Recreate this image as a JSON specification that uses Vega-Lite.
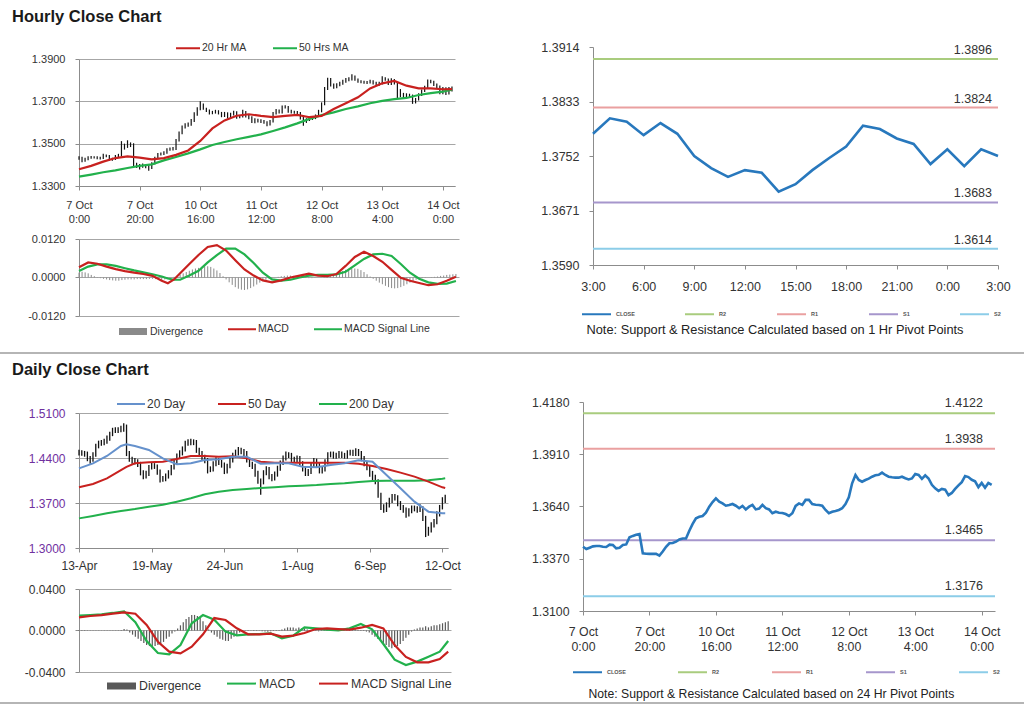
{
"$schema":"https://vega.github.io/schema/vega-lite/v6.json",
"padding":0,
"background":"white",
"spacing":0,
"bounds":"flush",
"resolve":{"scale":{"color":"independent"},"legend":{"color":"independent"}},
"config":{
 "view":{"stroke":null},
 "font":"Liberation Sans",
 "axis":{"labelFont":"Liberation Sans","labelColor":"#333333","domainColor":"#8c8c8c","tickColor":"#8c8c8c","gridColor":"#a6a6a6","tickSize":4,"labelPadding":10,"labelFlush":false,"labelOverlap":false,"labelBound":false},
 "legend":{"labelFont":"Liberation Sans","labelColor":"#333333","padding":0},
 "title":{"font":"Liberation Sans","fontSize":16.5,"fontWeight":"bold","color":"#1a1a1a","anchor":"start","frame":"group","limit":400}
},
"datasets":{
"hourly":[{"i":0,"c":1.3432,"h":1.344,"l":1.3424},{"i":1,"c":1.342,"h":1.3438,"l":1.3412},{"i":2,"c":1.3427,"h":1.3433,"l":1.3415},{"i":3,"c":1.3434,"h":1.344,"l":1.3422},{"i":4,"c":1.3436,"h":1.3442,"l":1.3429},{"i":5,"c":1.3436,"h":1.3441,"l":1.343},{"i":6,"c":1.3432,"h":1.3441,"l":1.3426},{"i":7,"c":1.3431,"h":1.3438,"l":1.3425},{"i":8,"c":1.3443,"h":1.3452,"l":1.3427},{"i":9,"c":1.3441,"h":1.3449,"l":1.3436},{"i":10,"c":1.3424,"h":1.3446,"l":1.3419},{"i":11,"c":1.3427,"h":1.3433,"l":1.3419},{"i":12,"c":1.3441,"h":1.3447,"l":1.3423},{"i":13,"c":1.3444,"h":1.3452,"l":1.3436},{"i":14,"c":1.3481,"h":1.3512,"l":1.344},{"i":15,"c":1.3488,"h":1.35,"l":1.3472},{"i":16,"c":1.3494,"h":1.3516,"l":1.348},{"i":17,"c":1.3498,"h":1.3506,"l":1.3484},{"i":18,"c":1.3398,"h":1.3502,"l":1.339},{"i":19,"c":1.3396,"h":1.341,"l":1.3385},{"i":20,"c":1.3395,"h":1.3404,"l":1.3378},{"i":21,"c":1.3395,"h":1.3406,"l":1.3386},{"i":22,"c":1.3395,"h":1.3402,"l":1.3384},{"i":23,"c":1.3386,"h":1.34,"l":1.3372},{"i":24,"c":1.3407,"h":1.3412,"l":1.338},{"i":25,"c":1.3432,"h":1.3438,"l":1.3402},{"i":26,"c":1.345,"h":1.3456,"l":1.3428},{"i":27,"c":1.3451,"h":1.3458,"l":1.3444},{"i":28,"c":1.3458,"h":1.3464,"l":1.3446},{"i":29,"c":1.347,"h":1.3478,"l":1.3452},{"i":30,"c":1.3475,"h":1.3482,"l":1.3466},{"i":31,"c":1.3475,"h":1.3484,"l":1.3468},{"i":32,"c":1.3515,"h":1.3522,"l":1.347},{"i":33,"c":1.355,"h":1.3558,"l":1.351},{"i":34,"c":1.3579,"h":1.3586,"l":1.3544},{"i":35,"c":1.3587,"h":1.3596,"l":1.3572},{"i":36,"c":1.3591,"h":1.36,"l":1.358},{"i":37,"c":1.3608,"h":1.3616,"l":1.3585},{"i":38,"c":1.3639,"h":1.3648,"l":1.3602},{"i":39,"c":1.3663,"h":1.3672,"l":1.3632},{"i":40,"c":1.3682,"h":1.37,"l":1.3658},{"i":41,"c":1.3665,"h":1.369,"l":1.366},{"i":42,"c":1.3656,"h":1.367,"l":1.365},{"i":43,"c":1.3644,"h":1.3662,"l":1.3638},{"i":44,"c":1.3648,"h":1.3655,"l":1.3639},{"i":45,"c":1.3653,"h":1.366,"l":1.3642},{"i":46,"c":1.3644,"h":1.3658,"l":1.3638},{"i":47,"c":1.3631,"h":1.365,"l":1.3625},{"i":48,"c":1.3643,"h":1.365,"l":1.3626},{"i":49,"c":1.3625,"h":1.3648,"l":1.3619},{"i":50,"c":1.3639,"h":1.3646,"l":1.362},{"i":51,"c":1.3648,"h":1.3656,"l":1.3633},{"i":52,"c":1.3625,"h":1.3653,"l":1.3618},{"i":53,"c":1.3629,"h":1.3636,"l":1.362},{"i":54,"c":1.3648,"h":1.366,"l":1.3624},{"i":55,"c":1.3631,"h":1.3654,"l":1.3624},{"i":56,"c":1.3625,"h":1.3636,"l":1.3615},{"i":57,"c":1.3605,"h":1.363,"l":1.3598},{"i":58,"c":1.3613,"h":1.362,"l":1.3596},{"i":59,"c":1.3608,"h":1.3618,"l":1.36},{"i":60,"c":1.3606,"h":1.3615,"l":1.3598},{"i":61,"c":1.3601,"h":1.3612,"l":1.3594},{"i":62,"c":1.3591,"h":1.3606,"l":1.3582},{"i":63,"c":1.3605,"h":1.3612,"l":1.3586},{"i":64,"c":1.3643,"h":1.365,"l":1.36},{"i":65,"c":1.3656,"h":1.3664,"l":1.3638},{"i":66,"c":1.3648,"h":1.3662,"l":1.3642},{"i":67,"c":1.3674,"h":1.368,"l":1.3643},{"i":68,"c":1.3674,"h":1.3682,"l":1.3666},{"i":69,"c":1.3653,"h":1.3678,"l":1.3646},{"i":70,"c":1.3649,"h":1.366,"l":1.3642},{"i":71,"c":1.3648,"h":1.3656,"l":1.3641},{"i":72,"c":1.3644,"h":1.3654,"l":1.3636},{"i":73,"c":1.3622,"h":1.365,"l":1.3614},{"i":74,"c":1.3605,"h":1.3628,"l":1.3585},{"i":75,"c":1.3613,"h":1.362,"l":1.3598},{"i":76,"c":1.3617,"h":1.3624,"l":1.3607},{"i":77,"c":1.3622,"h":1.3628,"l":1.3612},{"i":78,"c":1.3631,"h":1.3638,"l":1.3616},{"i":79,"c":1.3653,"h":1.366,"l":1.3626},{"i":80,"c":1.3687,"h":1.3695,"l":1.3648},{"i":81,"c":1.376,"h":1.3768,"l":1.3682},{"i":82,"c":1.3803,"h":1.3812,"l":1.3754},{"i":83,"c":1.3777,"h":1.381,"l":1.377},{"i":84,"c":1.3768,"h":1.3784,"l":1.376},{"i":85,"c":1.3777,"h":1.3786,"l":1.3762},{"i":86,"c":1.3784,"h":1.3792,"l":1.3771},{"i":87,"c":1.3794,"h":1.3802,"l":1.3778},{"i":88,"c":1.3801,"h":1.381,"l":1.3788},{"i":89,"c":1.3804,"h":1.3814,"l":1.3795},{"i":90,"c":1.3815,"h":1.3828,"l":1.3798},{"i":91,"c":1.3803,"h":1.3822,"l":1.3797},{"i":92,"c":1.3794,"h":1.3808,"l":1.3788},{"i":93,"c":1.3791,"h":1.38,"l":1.3785},{"i":94,"c":1.3789,"h":1.3797,"l":1.3783},{"i":95,"c":1.3789,"h":1.3796,"l":1.3782},{"i":96,"c":1.3794,"h":1.3802,"l":1.3784},{"i":97,"c":1.3786,"h":1.38,"l":1.378},{"i":98,"c":1.378,"h":1.3792,"l":1.3774},{"i":99,"c":1.3785,"h":1.3792,"l":1.3774},{"i":100,"c":1.3808,"h":1.3818,"l":1.378},{"i":101,"c":1.3803,"h":1.3814,"l":1.3797},{"i":102,"c":1.3783,"h":1.3808,"l":1.3777},{"i":103,"c":1.3801,"h":1.3809,"l":1.3777},{"i":104,"c":1.3785,"h":1.3806,"l":1.3779},{"i":105,"c":1.3752,"h":1.379,"l":1.3712},{"i":106,"c":1.3734,"h":1.3758,"l":1.372},{"i":107,"c":1.3721,"h":1.374,"l":1.3714},{"i":108,"c":1.3731,"h":1.3738,"l":1.3715},{"i":109,"c":1.3727,"h":1.3736,"l":1.372},{"i":110,"c":1.3699,"h":1.3732,"l":1.3688},{"i":111,"c":1.371,"h":1.3716,"l":1.369},{"i":112,"c":1.3731,"h":1.3738,"l":1.3704},{"i":113,"c":1.3749,"h":1.3756,"l":1.3725},{"i":114,"c":1.3766,"h":1.3774,"l":1.3744},{"i":115,"c":1.3797,"h":1.3803,"l":1.376},{"i":116,"c":1.3792,"h":1.3802,"l":1.3785},{"i":117,"c":1.3778,"h":1.3797,"l":1.3772},{"i":118,"c":1.377,"h":1.3784,"l":1.3763},{"i":119,"c":1.374,"h":1.3775,"l":1.3733},{"i":120,"c":1.3762,"h":1.3768,"l":1.3734},{"i":121,"c":1.3737,"h":1.3767,"l":1.373},{"i":122,"c":1.3762,"h":1.3768,"l":1.3732},{"i":123,"c":1.3752,"h":1.377,"l":1.3746}],
"hma":[{"i":0,"a":1.3379,"b":1.3344},{"i":4,"a":1.3395,"b":1.3354},{"i":8,"a":1.3415,"b":1.3365},{"i":12,"a":1.3432,"b":1.3374},{"i":16,"a":1.344,"b":1.3385},{"i":20,"a":1.3434,"b":1.3395},{"i":24,"a":1.3426,"b":1.3402},{"i":28,"a":1.3432,"b":1.3421},{"i":32,"a":1.3447,"b":1.3437},{"i":36,"a":1.3468,"b":1.3454},{"i":40,"a":1.3513,"b":1.3473},{"i":44,"a":1.3572,"b":1.3494},{"i":48,"a":1.361,"b":1.3508},{"i":52,"a":1.3632,"b":1.3521},{"i":56,"a":1.3639,"b":1.3532},{"i":60,"a":1.3631,"b":1.3544},{"i":64,"a":1.3625,"b":1.356},{"i":68,"a":1.3631,"b":1.3577},{"i":72,"a":1.3636,"b":1.3596},{"i":76,"a":1.3625,"b":1.3617},{"i":80,"a":1.3631,"b":1.3635},{"i":84,"a":1.3664,"b":1.3648},{"i":88,"a":1.3691,"b":1.3664},{"i":92,"a":1.3719,"b":1.3676},{"i":96,"a":1.3761,"b":1.3691},{"i":100,"a":1.3785,"b":1.3702},{"i":104,"a":1.3796,"b":1.371},{"i":108,"a":1.3774,"b":1.3716},{"i":112,"a":1.3761,"b":1.373},{"i":116,"a":1.3761,"b":1.3739},{"i":120,"a":1.3757,"b":1.3746},{"i":123,"a":1.3758,"b":1.3755}],
"hmacd":[{"i":0,"m":0.0032,"s":0.002},{"i":3,"m":0.0047,"s":0.0034},{"i":6,"m":0.0043,"s":0.0041},{"i":9,"m":0.0034,"s":0.0041},{"i":12,"m":0.0026,"s":0.0036},{"i":15,"m":0.002,"s":0.0029},{"i":18,"m":0.0015,"s":0.0022},{"i":21,"m":0.0011,"s":0.0016},{"i":24,"m":0.0005,"s":0.001},{"i":27,"m":-0.001,"s":0.0003},{"i":29,"m":-0.0018,"s":-0.0003},{"i":31,"m":-0.0006,"s":-0.0007},{"i":33,"m":0.0013,"s":-0.0007},{"i":36,"m":0.0042,"s":0.0006},{"i":39,"m":0.007,"s":0.0021},{"i":42,"m":0.0095,"s":0.0047},{"i":45,"m":0.0101,"s":0.007},{"i":48,"m":0.0084,"s":0.009},{"i":51,"m":0.0054,"s":0.009},{"i":54,"m":0.0025,"s":0.0072},{"i":57,"m":0.0006,"s":0.0045},{"i":60,"m":-0.0009,"s":0.0015},{"i":63,"m":-0.0015,"s":-0.0006},{"i":66,"m":-0.0009,"s":-0.001},{"i":69,"m":0,"s":-0.0007},{"i":72,"m":0.0006,"s":0},{"i":75,"m":0.0012,"s":0.0006},{"i":78,"m":0.0006,"s":0.0008},{"i":81,"m":0.0004,"s":0.0008},{"i":84,"m":0.0011,"s":0.001},{"i":87,"m":0.0036,"s":0.0018},{"i":90,"m":0.0064,"s":0.0038},{"i":93,"m":0.008,"s":0.0058},{"i":96,"m":0.0067,"s":0.0072},{"i":99,"m":0.0049,"s":0.0074},{"i":102,"m":0.0024,"s":0.0067},{"i":105,"m":-0.0001,"s":0.0042},{"i":108,"m":-0.001,"s":0.0015},{"i":111,"m":-0.0017,"s":-0.0004},{"i":114,"m":-0.0024,"s":-0.0015},{"i":117,"m":-0.0021,"s":-0.002},{"i":120,"m":-0.001,"s":-0.0019},{"i":123,"m":0.0002,"s":-0.0011}],
"hdiv":[{"i":0,"d":0.0015},{"i":1,"d":0.0018},{"i":2,"d":0.0016},{"i":3,"d":0.0013},{"i":4,"d":0.0008},{"i":5,"d":0.0004},{"i":6,"d":0.0001},{"i":7,"d":-0.0002},{"i":8,"d":-0.0004},{"i":9,"d":-0.0006},{"i":10,"d":-0.0008},{"i":11,"d":-0.0009},{"i":12,"d":-0.001},{"i":13,"d":-0.001},{"i":14,"d":-0.0008},{"i":15,"d":-0.0007},{"i":16,"d":-0.0006},{"i":17,"d":-0.0006},{"i":18,"d":-0.0006},{"i":19,"d":-0.0005},{"i":20,"d":-0.0005},{"i":21,"d":-0.0005},{"i":22,"d":-0.0005},{"i":23,"d":-0.0004},{"i":24,"d":-0.0004},{"i":25,"d":-0.0005},{"i":26,"d":-0.0007},{"i":27,"d":-0.0008},{"i":28,"d":-0.0006},{"i":29,"d":-0.0003},{"i":30,"d":-0.0001},{"i":31,"d":0.0002},{"i":32,"d":0.0005},{"i":33,"d":0.0009},{"i":34,"d":0.0013},{"i":35,"d":0.0017},{"i":36,"d":0.0021},{"i":37,"d":0.0025},{"i":38,"d":0.0028},{"i":39,"d":0.003},{"i":40,"d":0.0033},{"i":41,"d":0.0035},{"i":42,"d":0.0035},{"i":43,"d":0.0033},{"i":44,"d":0.0028},{"i":45,"d":0.0022},{"i":46,"d":0.0014},{"i":47,"d":0.0004},{"i":48,"d":-0.0006},{"i":49,"d":-0.0015},{"i":50,"d":-0.0023},{"i":51,"d":-0.003},{"i":52,"d":-0.0035},{"i":53,"d":-0.0038},{"i":54,"d":-0.0039},{"i":55,"d":-0.0037},{"i":56,"d":-0.0033},{"i":57,"d":-0.0028},{"i":58,"d":-0.0022},{"i":59,"d":-0.0016},{"i":60,"d":-0.0011},{"i":61,"d":-0.0007},{"i":62,"d":-0.0004},{"i":63,"d":-0.0002},{"i":64,"d":0},{"i":65,"d":0.0002},{"i":66,"d":0.0004},{"i":67,"d":0.0005},{"i":68,"d":0.0006},{"i":69,"d":0.0006},{"i":70,"d":0.0005},{"i":71,"d":0.0004},{"i":72,"d":0.0003},{"i":73,"d":0.0001},{"i":74,"d":-0.0001},{"i":75,"d":-0.0002},{"i":76,"d":-0.0002},{"i":77,"d":-0.0001},{"i":78,"d":0},{"i":79,"d":0.0001},{"i":80,"d":0.0002},{"i":81,"d":0.0004},{"i":82,"d":0.0006},{"i":83,"d":0.0009},{"i":84,"d":0.0012},{"i":85,"d":0.0016},{"i":86,"d":0.002},{"i":87,"d":0.0024},{"i":88,"d":0.0027},{"i":89,"d":0.0028},{"i":90,"d":0.0028},{"i":91,"d":0.0027},{"i":92,"d":0.0023},{"i":93,"d":0.0017},{"i":94,"d":0.001},{"i":95,"d":0.0003},{"i":96,"d":-0.0004},{"i":97,"d":-0.001},{"i":98,"d":-0.0016},{"i":99,"d":-0.0021},{"i":100,"d":-0.0026},{"i":101,"d":-0.003},{"i":102,"d":-0.0033},{"i":103,"d":-0.0034},{"i":104,"d":-0.0033},{"i":105,"d":-0.003},{"i":106,"d":-0.0026},{"i":107,"d":-0.0021},{"i":108,"d":-0.0016},{"i":109,"d":-0.0011},{"i":110,"d":-0.0007},{"i":111,"d":-0.0004},{"i":112,"d":-0.0002},{"i":113,"d":-0.0001},{"i":114,"d":0},{"i":115,"d":0.0001},{"i":116,"d":0.0002},{"i":117,"d":0.0003},{"i":118,"d":0.0005},{"i":119,"d":0.0006},{"i":120,"d":0.0008},{"i":121,"d":0.0009},{"i":122,"d":0.001},{"i":123,"d":0.0011}],
"daily":[{"i":0,"c":1.4483,"h":1.453,"l":1.444},{"i":1,"c":1.4473,"h":1.452,"l":1.4435},{"i":2,"c":1.4462,"h":1.451,"l":1.442},{"i":3,"c":1.4395,"h":1.45,"l":1.435},{"i":4,"c":1.4353,"h":1.443,"l":1.431},{"i":5,"c":1.4447,"h":1.449,"l":1.434},{"i":6,"c":1.4587,"h":1.462,"l":1.442},{"i":7,"c":1.4628,"h":1.467,"l":1.455},{"i":8,"c":1.4628,"h":1.468,"l":1.459},{"i":9,"c":1.4654,"h":1.47,"l":1.46},{"i":10,"c":1.4706,"h":1.475,"l":1.462},{"i":11,"c":1.4773,"h":1.481,"l":1.467},{"i":12,"c":1.4825,"h":1.487,"l":1.474},{"i":13,"c":1.4836,"h":1.488,"l":1.479},{"i":14,"c":1.4836,"h":1.488,"l":1.479},{"i":15,"c":1.4851,"h":1.49,"l":1.48},{"i":16,"c":1.4898,"h":1.494,"l":1.481},{"i":17,"c":1.4473,"h":1.492,"l":1.443},{"i":18,"c":1.4379,"h":1.451,"l":1.434},{"i":19,"c":1.4359,"h":1.442,"l":1.431},{"i":20,"c":1.4343,"h":1.44,"l":1.43},{"i":21,"c":1.4302,"h":1.438,"l":1.426},{"i":22,"c":1.4172,"h":1.434,"l":1.413},{"i":23,"c":1.412,"h":1.421,"l":1.407},{"i":24,"c":1.4161,"h":1.42,"l":1.408},{"i":25,"c":1.4255,"h":1.429,"l":1.412},{"i":26,"c":1.4281,"h":1.433,"l":1.422},{"i":27,"c":1.4265,"h":1.432,"l":1.423},{"i":28,"c":1.4187,"h":1.43,"l":1.414},{"i":29,"c":1.4068,"h":1.422,"l":1.402},{"i":30,"c":1.4078,"h":1.412,"l":1.403},{"i":31,"c":1.412,"h":1.416,"l":1.404},{"i":32,"c":1.4172,"h":1.421,"l":1.408},{"i":33,"c":1.4255,"h":1.429,"l":1.413},{"i":34,"c":1.4343,"h":1.438,"l":1.422},{"i":35,"c":1.4431,"h":1.447,"l":1.43},{"i":36,"c":1.4473,"h":1.452,"l":1.439},{"i":37,"c":1.4535,"h":1.458,"l":1.444},{"i":38,"c":1.4628,"h":1.467,"l":1.45},{"i":39,"c":1.4644,"h":1.469,"l":1.459},{"i":40,"c":1.4654,"h":1.47,"l":1.46},{"i":41,"c":1.4644,"h":1.469,"l":1.46},{"i":42,"c":1.4525,"h":1.468,"l":1.448},{"i":43,"c":1.4473,"h":1.456,"l":1.443},{"i":44,"c":1.441,"h":1.451,"l":1.437},{"i":45,"c":1.4369,"h":1.445,"l":1.432},{"i":46,"c":1.4213,"h":1.44,"l":1.416},{"i":47,"c":1.4224,"h":1.427,"l":1.418},{"i":48,"c":1.4307,"h":1.435,"l":1.419},{"i":49,"c":1.4369,"h":1.441,"l":1.427},{"i":50,"c":1.4333,"h":1.44,"l":1.429},{"i":51,"c":1.4291,"h":1.437,"l":1.425},{"i":52,"c":1.4198,"h":1.433,"l":1.415},{"i":53,"c":1.4276,"h":1.431,"l":1.416},{"i":54,"c":1.4369,"h":1.441,"l":1.424},{"i":55,"c":1.4441,"h":1.448,"l":1.433},{"i":56,"c":1.4483,"h":1.453,"l":1.44},{"i":57,"c":1.4525,"h":1.457,"l":1.444},{"i":58,"c":1.4504,"h":1.456,"l":1.446},{"i":59,"c":1.4473,"h":1.454,"l":1.443},{"i":60,"c":1.4369,"h":1.451,"l":1.433},{"i":61,"c":1.4302,"h":1.44,"l":1.426},{"i":62,"c":1.4276,"h":1.434,"l":1.423},{"i":63,"c":1.4161,"h":1.431,"l":1.411},{"i":64,"c":1.4047,"h":1.42,"l":1.4},{"i":65,"c":1.4032,"h":1.408,"l":1.383},{"i":66,"c":1.4172,"h":1.421,"l":1.399},{"i":67,"c":1.4234,"h":1.427,"l":1.413},{"i":68,"c":1.411,"h":1.426,"l":1.407},{"i":69,"c":1.4084,"h":1.415,"l":1.404},{"i":70,"c":1.4151,"h":1.419,"l":1.405},{"i":71,"c":1.4239,"h":1.428,"l":1.411},{"i":72,"c":1.4327,"h":1.436,"l":1.42},{"i":73,"c":1.4395,"h":1.444,"l":1.429},{"i":74,"c":1.4457,"h":1.45,"l":1.436},{"i":75,"c":1.4441,"h":1.449,"l":1.44},{"i":76,"c":1.4379,"h":1.448,"l":1.434},{"i":77,"c":1.4369,"h":1.442,"l":1.433},{"i":78,"c":1.4395,"h":1.444,"l":1.433},{"i":79,"c":1.4317,"h":1.443,"l":1.428},{"i":80,"c":1.4234,"h":1.435,"l":1.419},{"i":81,"c":1.4161,"h":1.427,"l":1.412},{"i":82,"c":1.4187,"h":1.423,"l":1.412},{"i":83,"c":1.4291,"h":1.433,"l":1.415},{"i":84,"c":1.4359,"h":1.44,"l":1.425},{"i":85,"c":1.4291,"h":1.439,"l":1.425},{"i":86,"c":1.4198,"h":1.433,"l":1.416},{"i":87,"c":1.4224,"h":1.426,"l":1.416},{"i":88,"c":1.4343,"h":1.438,"l":1.419},{"i":89,"c":1.4447,"h":1.449,"l":1.43},{"i":90,"c":1.4462,"h":1.45,"l":1.441},{"i":91,"c":1.4431,"h":1.45,"l":1.439},{"i":92,"c":1.4441,"h":1.448,"l":1.439},{"i":93,"c":1.4467,"h":1.451,"l":1.44},{"i":94,"c":1.4441,"h":1.45,"l":1.44},{"i":95,"c":1.4431,"h":1.448,"l":1.439},{"i":96,"c":1.4483,"h":1.452,"l":1.439},{"i":97,"c":1.4493,"h":1.453,"l":1.444},{"i":98,"c":1.4473,"h":1.453,"l":1.443},{"i":99,"c":1.4504,"h":1.455,"l":1.443},{"i":100,"c":1.4473,"h":1.454,"l":1.443},{"i":101,"c":1.4395,"h":1.451,"l":1.435},{"i":102,"c":1.4317,"h":1.443,"l":1.427},{"i":103,"c":1.4255,"h":1.435,"l":1.421},{"i":104,"c":1.4161,"h":1.429,"l":1.411},{"i":105,"c":1.4099,"h":1.42,"l":1.405},{"i":106,"c":1.4037,"h":1.414,"l":1.399},{"i":107,"c":1.3824,"h":1.407,"l":1.378},{"i":108,"c":1.3643,"h":1.386,"l":1.359},{"i":109,"c":1.3601,"h":1.368,"l":1.355},{"i":110,"c":1.3669,"h":1.371,"l":1.356},{"i":111,"c":1.3736,"h":1.378,"l":1.363},{"i":112,"c":1.3798,"h":1.384,"l":1.37},{"i":113,"c":1.3788,"h":1.384,"l":1.374},{"i":114,"c":1.3695,"h":1.382,"l":1.365},{"i":115,"c":1.3633,"h":1.373,"l":1.359},{"i":116,"c":1.3591,"h":1.367,"l":1.355},{"i":117,"c":1.3529,"h":1.363,"l":1.347},{"i":118,"c":1.3581,"h":1.362,"l":1.349},{"i":119,"c":1.3622,"h":1.366,"l":1.354},{"i":120,"c":1.3612,"h":1.366,"l":1.357},{"i":121,"c":1.3596,"h":1.365,"l":1.355},{"i":122,"c":1.3617,"h":1.368,"l":1.356},{"i":123,"c":1.3462,"h":1.365,"l":1.342},{"i":124,"c":1.327,"h":1.35,"l":1.317},{"i":125,"c":1.328,"h":1.333,"l":1.319},{"i":126,"c":1.3358,"h":1.34,"l":1.324},{"i":127,"c":1.341,"h":1.345,"l":1.332},{"i":128,"c":1.3529,"h":1.357,"l":1.337},{"i":129,"c":1.3633,"h":1.367,"l":1.349},{"i":130,"c":1.3747,"h":1.379,"l":1.36},{"i":131,"c":1.3788,"h":1.383,"l":1.37}],
"dma":[{"i":0,"b":1.4239,"r":1.3944,"g":1.3461},{"i":5,"b":1.4317,"r":1.3996,"g":1.3498},{"i":10,"b":1.4431,"r":1.4084,"g":1.3539},{"i":15,"b":1.4587,"r":1.4213,"g":1.3576},{"i":17,"b":1.4613,"r":1.4262,"g":1.3589},{"i":20,"b":1.4587,"r":1.4317,"g":1.3607},{"i":25,"b":1.4525,"r":1.4333,"g":1.3643},{"i":30,"b":1.4395,"r":1.4343,"g":1.3674},{"i":35,"b":1.4302,"r":1.4384,"g":1.3721},{"i":40,"b":1.4317,"r":1.4431,"g":1.3773},{"i":45,"b":1.4369,"r":1.4431,"g":1.3835},{"i":50,"b":1.4379,"r":1.4421,"g":1.3876},{"i":55,"b":1.4421,"r":1.4426,"g":1.3902},{"i":60,"b":1.4421,"r":1.4395,"g":1.3918},{"i":65,"b":1.4312,"r":1.4343,"g":1.3933},{"i":70,"b":1.4317,"r":1.4327,"g":1.3944},{"i":75,"b":1.4317,"r":1.4327,"g":1.3959},{"i":80,"b":1.4265,"r":1.4327,"g":1.397},{"i":85,"b":1.4255,"r":1.4327,"g":1.398},{"i":90,"b":1.4291,"r":1.4327,"g":1.3996},{"i":95,"b":1.4317,"r":1.4327,"g":1.4006},{"i":100,"b":1.4364,"r":1.4312,"g":1.4027},{"i":105,"b":1.4343,"r":1.4276,"g":1.4042},{"i":110,"b":1.4136,"r":1.4229,"g":1.4047},{"i":115,"b":1.3928,"r":1.4172,"g":1.4047},{"i":120,"b":1.3721,"r":1.411,"g":1.4047},{"i":125,"b":1.3565,"r":1.4032,"g":1.4053},{"i":130,"b":1.3539,"r":1.3944,"g":1.4078},{"i":131,"b":1.3539,"r":1.3933,"g":1.4084}],
"dmacd":[{"i":0,"m":0.0143,"s":0.0127},{"i":4,"m":0.0149,"s":0.014},{"i":8,"m":0.0156,"s":0.0149},{"i":12,"m":0.0169,"s":0.0162},{"i":16,"m":0.0185,"s":0.0175},{"i":20,"m":0.0079,"s":0.0162},{"i":24,"m":-0.0101,"s":0.0053},{"i":28,"m":-0.0217,"s":-0.0108},{"i":32,"m":-0.023,"s":-0.0204},{"i":36,"m":-0.014,"s":-0.022},{"i":40,"m":0.0069,"s":-0.0156},{"i":44,"m":0.0149,"s":-0.0037},{"i":48,"m":0.0104,"s":0.012},{"i":52,"m":-0.0011,"s":0.0101},{"i":56,"m":-0.0047,"s":0.0021},{"i":60,"m":-0.0037,"s":-0.0037},{"i":64,"m":-0.0034,"s":-0.0037},{"i":68,"m":-0.0027,"s":-0.003},{"i":72,"m":-0.0075,"s":-0.0059},{"i":76,"m":-0.005,"s":-0.005},{"i":80,"m":0.0031,"s":-0.0024},{"i":84,"m":0.0021,"s":0.0014},{"i":88,"m":0.0008,"s":0.0021},{"i":92,"m":0.0002,"s":0.0014},{"i":96,"m":0.0021,"s":0.0008},{"i":100,"m":0.0063,"s":0.0027},{"i":104,"m":0.0011,"s":0.0053},{"i":108,"m":-0.013,"s":0.0021},{"i":112,"m":-0.0281,"s":-0.014},{"i":116,"m":-0.0333,"s":-0.0255},{"i":120,"m":-0.03,"s":-0.0307},{"i":124,"m":-0.0252,"s":-0.0307},{"i":128,"m":-0.0204,"s":-0.0275},{"i":131,"m":-0.0101,"s":-0.0204}],
"ddiv":[{"i":0,"d":0.0005},{"i":1,"d":0.0004},{"i":2,"d":0.0004},{"i":3,"d":0.0003},{"i":4,"d":0.0003},{"i":5,"d":0.0002},{"i":6,"d":0.0003},{"i":7,"d":0.0003},{"i":8,"d":0.0002},{"i":9,"d":0.0002},{"i":10,"d":0.0003},{"i":11,"d":0.0003},{"i":12,"d":0.0002},{"i":13,"d":0.0002},{"i":14,"d":0.0003},{"i":15,"d":0.0004},{"i":16,"d":0.0015},{"i":17,"d":0.001},{"i":18,"d":-0.002},{"i":19,"d":-0.004},{"i":20,"d":-0.006},{"i":21,"d":-0.008},{"i":22,"d":-0.01},{"i":23,"d":-0.012},{"i":24,"d":-0.014},{"i":25,"d":-0.015},{"i":26,"d":-0.016},{"i":27,"d":-0.015},{"i":28,"d":-0.014},{"i":29,"d":-0.013},{"i":30,"d":-0.011},{"i":31,"d":-0.008},{"i":32,"d":-0.006},{"i":33,"d":-0.003},{"i":34,"d":-0.001},{"i":35,"d":0.002},{"i":36,"d":0.005},{"i":37,"d":0.008},{"i":38,"d":0.011},{"i":39,"d":0.013},{"i":40,"d":0.015},{"i":41,"d":0.015},{"i":42,"d":0.014},{"i":43,"d":0.012},{"i":44,"d":0.009},{"i":45,"d":0.005},{"i":46,"d":0.001},{"i":47,"d":-0.002},{"i":48,"d":-0.004},{"i":49,"d":-0.006},{"i":50,"d":-0.008},{"i":51,"d":-0.009},{"i":52,"d":-0.01},{"i":53,"d":-0.01},{"i":54,"d":-0.008},{"i":55,"d":-0.006},{"i":56,"d":-0.004},{"i":57,"d":-0.002},{"i":58,"d":-0.001},{"i":59,"d":0.0003},{"i":60,"d":-0.0005},{"i":61,"d":0.0002},{"i":62,"d":0.0005},{"i":63,"d":0.0004},{"i":64,"d":-0.0003},{"i":65,"d":-0.0008},{"i":66,"d":-0.001},{"i":67,"d":-0.0012},{"i":68,"d":-0.0008},{"i":69,"d":-0.0005},{"i":70,"d":-0.0005},{"i":71,"d":0.0005},{"i":72,"d":0.001},{"i":73,"d":0.002},{"i":74,"d":0.003},{"i":75,"d":0.003},{"i":76,"d":0.003},{"i":77,"d":0.002},{"i":78,"d":0.003},{"i":79,"d":0.002},{"i":80,"d":0.002},{"i":81,"d":0.001},{"i":82,"d":0.0005},{"i":83,"d":0.0003},{"i":84,"d":-0.0005},{"i":85,"d":-0.0008},{"i":86,"d":-0.0005},{"i":87,"d":0.0008},{"i":88,"d":0.0006},{"i":89,"d":0.0003},{"i":90,"d":0.0002},{"i":91,"d":0.0004},{"i":92,"d":0.0006},{"i":93,"d":0.0008},{"i":94,"d":0.001},{"i":95,"d":0.0015},{"i":96,"d":0.002},{"i":97,"d":0.0018},{"i":98,"d":0.0012},{"i":99,"d":0.0005},{"i":100,"d":-0.0005},{"i":101,"d":-0.0005},{"i":102,"d":-0.001},{"i":103,"d":-0.002},{"i":104,"d":-0.004},{"i":105,"d":-0.006},{"i":106,"d":-0.008},{"i":107,"d":-0.01},{"i":108,"d":-0.012},{"i":109,"d":-0.014},{"i":110,"d":-0.016},{"i":111,"d":-0.017},{"i":112,"d":-0.016},{"i":113,"d":-0.015},{"i":114,"d":-0.013},{"i":115,"d":-0.01},{"i":116,"d":-0.007},{"i":117,"d":-0.004},{"i":118,"d":-0.001},{"i":119,"d":0.001},{"i":120,"d":0.002},{"i":121,"d":0.003},{"i":122,"d":0.003},{"i":123,"d":0.004},{"i":124,"d":0.003},{"i":125,"d":0.004},{"i":126,"d":0.005},{"i":127,"d":0.005},{"i":128,"d":0.006},{"i":129,"d":0.007},{"i":130,"d":0.008},{"i":131,"d":0.009}]
},
"vconcat":[
{"width":1024,"height":47,"data":{"values":[]},"mark":"point"},
{"hconcat":[
  {"width":79,"height":1,"data":{"values":[]},"mark":"point","title":{"text":"Hourly Close Chart","offset":22,"dx":12}},
  {"vconcat":[
    {"width":10,"height":12,"data":{"values":[]},"mark":"point"},
    {"width":376,"height":127,
     "encoding":{"x":{"field":"i","type":"quantitative","scale":{"domain":[0,124],"nice":false,"zero":false},"axis":{"values":[0,20,40,60,80,100,120],"tickCount":10,"labelExpr":"[['7 Oct','7 Oct','10 Oct','11 Oct','12 Oct','13 Oct','14 Oct'][datum.value/20], ['0:00','20:00','16:00','12:00','8:00','4:00','0:00'][datum.value/20]]","grid":false,"title":null,"labelFontSize":11,"labelPadding":9,"labelLineHeight":14}}},
     "layer":[
      {"data":{"name":"hourly"},"mark":{"type":"rule","color":"#111111","strokeWidth":1.2},"encoding":{"y":{"field":"l","type":"quantitative","title":null,"scale":{"domain":[1.33,1.39],"nice":false,"zero":false},"axis":{"values":[1.33,1.35,1.37,1.39],"tickCount":8,"format":".4f","grid":true,"title":null,"labelFontSize":11}},"y2":{"field":"h"}}},
      {"data":{"name":"hma"},"mark":{"type":"line","strokeWidth":2.2},"encoding":{"y":{"field":"b","type":"quantitative","title":null},"color":{"datum":"50 Hrs MA","type":"nominal","scale":{"domain":["20 Hr MA","50 Hrs MA"],"range":["#c8211f","#22b14c"]},"legend":{"title":null,"orient":"none","legendX":96,"legendY":-24,"direction":"horizontal","symbolType":"stroke","symbolSize":576,"symbolStrokeWidth":2,"labelFontSize":10.5,"labelOffset":1,"columnPadding":22}}}},
      {"data":{"name":"hma"},"mark":{"type":"line","strokeWidth":2.2},"encoding":{"y":{"field":"a","type":"quantitative","title":null},"color":{"datum":"20 Hr MA","type":"nominal"}}}
     ]},
    {"width":10,"height":53,"data":{"values":[]},"mark":"point"},
    {"width":380,"height":77,
     "resolve":{"scale":{"color":"independent"},"legend":{"color":"independent"}},
     "encoding":{"x":{"field":"i","type":"quantitative","scale":{"domain":[0,124],"nice":false,"zero":false},"axis":null}},
     "layer":[
      {"data":{"name":"hdiv"},"mark":{"type":"rule","strokeWidth":1},"encoding":{"y":{"field":"d","type":"quantitative","title":null,"scale":{"domain":[-0.012,0.012],"nice":false,"zero":false},"axis":{"values":[-0.012,1e-9,0.012],"tickCount":8,"labelExpr":"datum.value < -0.000001 ? '-' + format(-datum.value, '.4f') : format(abs(datum.value), '.4f')","labelOverlap":false,"grid":true,"title":null,"labelFontSize":11}},"y2":{"datum":0},"color":{"datum":"Divergence","type":"nominal","scale":{"domain":["Divergence"],"range":["#8a8a8a"]},"legend":{"title":null,"orient":"none","legendX":36.5,"legendY":75,"direction":"horizontal","symbolType":"stroke","symbolSize":784,"symbolStrokeWidth":7,"labelFontSize":10.5,"labelOffset":-0.5}}}},
      {"layer":[
        {"data":{"name":"hmacd"},"mark":{"type":"line","strokeWidth":2.2},"encoding":{"y":{"field":"s","type":"quantitative","title":null},"color":{"datum":"MACD Signal Line","type":"nominal","scale":{"domain":["MACD","MACD Signal Line"],"range":["#c8211f","#22b14c"]},"legend":{"title":null,"orient":"none","legendX":148,"legendY":75,"direction":"horizontal","symbolType":"stroke","symbolSize":784,"symbolStrokeWidth":2,"labelFontSize":10.5,"labelOffset":1,"columnPadding":21}}}},
        {"data":{"name":"hmacd"},"mark":{"type":"line","strokeWidth":2.2},"encoding":{"y":{"field":"m","type":"quantitative","title":null},"color":{"datum":"MACD","type":"nominal"}}}
      ]}
     ]}
  ],"spacing":0,"bounds":"flush","resolve":{"scale":{"color":"independent"},"legend":{"color":"independent"}}},
  {"width":514,"height":1,"data":{"values":[]},"mark":"point"},
  {"width":405,"height":218,
   "layer":[
    {"data":{"values":[{"k":"R2","v":1.3896},{"k":"R1","v":1.3824},{"k":"S1","v":1.3683},{"k":"S2","v":1.3614}]},"mark":{"type":"rule","strokeWidth":2},"encoding":{"y":{"field":"v","type":"quantitative","title":null,"scale":{"domain":[1.359,1.3914],"nice":false,"zero":false},"axis":{"values":[1.359,1.3671,1.3752,1.3833,1.3914],"tickCount":10,"format":".4f","grid":false,"title":null,"labelFontSize":12.5}},"color":{"field":"k","type":"nominal","scale":{"domain":["CLOSE","R2","R1","S1","S2"],"range":["#2878bd","#a9cc7e","#eaa0a0","#a696cc","#8ccde8"]},"legend":{"title":null,"orient":"none","legendX":-12,"legendY":251.5,"direction":"horizontal","symbolType":"stroke","symbolSize":841,"symbolStrokeWidth":2,"labelFontSize":5.5,"labelFontWeight":"bold","labelColor":"#555555","labelOffset":4,"columnPadding":46}}}},
    {"data":{"name":"hourly"},"transform":[{"filter":"datum.i >= 99"}],"mark":{"type":"line","strokeWidth":2.6},"encoding":{"x":{"field":"i","type":"quantitative","scale":{"domain":[99,123],"nice":false,"zero":false},"axis":{"values":[99,102,105,108,111,114,117,120,123],"tickCount":12,"labelExpr":"((datum.value - 96) % 24) + ':00'","grid":false,"labelFontSize":12.5,"labelPadding":11,"title":"Note: Support & Resistance Calculated based on 1 Hr Pivot Points","titleX":-7,"titleY":64,"titleAlign":"left","titleAnchor":"start","titleBaseline":"middle","titleFontSize":12.8,"titleFontWeight":"normal","titleColor":"#222222","titleFont":"Liberation Sans"}},"y":{"field":"c","type":"quantitative","title":null},"color":{"datum":"CLOSE","type":"nominal"}}},
    {"data":{"values":[{"k":"R2","v":1.3896},{"k":"R1","v":1.3824},{"k":"S1","v":1.3683},{"k":"S2","v":1.3614}]},"mark":{"type":"text","align":"right","baseline":"middle","dx":-6,"dy":-9,"fontSize":12.5,"font":"Liberation Sans","color":"#333333"},"encoding":{"x":{"datum":123,"type":"quantitative"},"y":{"field":"v","type":"quantitative","title":null},"text":{"field":"v","type":"quantitative","format":".4f"}}}
   ]}
 ],"spacing":0,"bounds":"flush","resolve":{"scale":{"color":"independent"},"legend":{"color":"independent"}}},
{"width":10,"height":305,"data":{"values":[]},"mark":"point"},
{"width":1024,"height":2,"data":{"values":[]},"mark":"point","view":{"fill":"#b5b5b5"}},
{"width":10,"height":48,"data":{"values":[]},"mark":"point"},
{"hconcat":[
  {"width":79,"height":1,"data":{"values":[]},"mark":"point","title":{"text":"Daily Close Chart","offset":24,"dx":12}},
  {"vconcat":[
    {"width":10,"height":11,"data":{"values":[]},"mark":"point"},
    {"width":369,"height":135,
     "encoding":{"x":{"field":"i","type":"quantitative","scale":{"domain":[0,132],"nice":false,"zero":false},"axis":{"values":[0,26,52,78,104,130],"tickCount":10,"labelExpr":"['13-Apr','19-May','24-Jun','1-Aug','6-Sep','12-Oct'][datum.value/26]","grid":false,"title":null,"labelFontSize":12,"labelPadding":8}}},
     "layer":[
      {"data":{"name":"daily"},"mark":{"type":"rule","color":"#111111","strokeWidth":1.3},"encoding":{"y":{"field":"l","type":"quantitative","title":null,"scale":{"domain":[1.3,1.51],"nice":false,"zero":false},"axis":{"values":[1.3,1.37,1.44,1.51],"tickCount":8,"format":".4f","grid":true,"title":null,"labelFontSize":12,"labelColor":"#70309f"}},"y2":{"field":"h"}}},
      {"data":{"name":"dma"},"mark":{"type":"line","strokeWidth":2},"encoding":{"y":{"field":"g","type":"quantitative","title":null},"color":{"datum":"200 Day","type":"nominal","scale":{"domain":["20 Day","50 Day","200 Day"],"range":["#6591cc","#c8211f","#22b14c"]},"legend":{"title":null,"orient":"none","legendX":37,"legendY":-24,"direction":"horizontal","symbolType":"stroke","symbolSize":784,"symbolStrokeWidth":2,"labelFontSize":12,"labelOffset":1,"columnPadding":28}}}},
      {"data":{"name":"dma"},"mark":{"type":"line","strokeWidth":2},"encoding":{"y":{"field":"r","type":"quantitative","title":null},"color":{"datum":"50 Day","type":"nominal"}}},
      {"data":{"name":"dma"},"mark":{"type":"line","strokeWidth":2},"encoding":{"y":{"field":"b","type":"quantitative","title":null},"color":{"datum":"20 Day","type":"nominal"}}}
     ]},
    {"width":10,"height":41,"data":{"values":[]},"mark":"point"},
    {"width":372,"height":83,
     "resolve":{"scale":{"color":"independent"},"legend":{"color":"independent"}},
     "encoding":{"x":{"field":"i","type":"quantitative","scale":{"domain":[0,132],"nice":false,"zero":false},"axis":null}},
     "layer":[
      {"data":{"name":"ddiv"},"mark":{"type":"rule","strokeWidth":1.2},"encoding":{"y":{"field":"d","type":"quantitative","title":null,"scale":{"domain":[-0.04,0.04],"nice":false,"zero":false},"axis":{"values":[-0.04,1e-9,0.04],"tickCount":8,"labelExpr":"datum.value < -0.000001 ? '-' + format(-datum.value, '.4f') : format(abs(datum.value), '.4f')","labelOverlap":false,"grid":true,"title":null,"labelFontSize":12}},"y2":{"datum":0},"color":{"datum":"Divergence","type":"nominal","scale":{"domain":["Divergence"],"range":["#595959"]},"legend":{"title":null,"orient":"none","legendX":24.5,"legendY":79,"direction":"horizontal","symbolType":"stroke","symbolSize":841,"symbolStrokeWidth":7,"labelFontSize":12.3,"labelOffset":-0.5}}}},
      {"layer":[
        {"data":{"name":"dmacd"},"mark":{"type":"line","strokeWidth":2.2},"encoding":{"y":{"field":"m","type":"quantitative","title":null},"color":{"datum":"MACD","type":"nominal","scale":{"domain":["MACD","MACD Signal Line"],"range":["#22b14c","#c8211f"]},"legend":{"title":null,"orient":"none","legendX":147,"legendY":79,"direction":"horizontal","symbolType":"stroke","symbolSize":841,"symbolStrokeWidth":2,"labelFontSize":12.3,"labelOffset":2,"columnPadding":19}}}},
        {"data":{"name":"dmacd"},"mark":{"type":"line","strokeWidth":2.2},"encoding":{"y":{"field":"s","type":"quantitative","title":null},"color":{"datum":"MACD Signal Line","type":"nominal"}}}
      ]}
     ]}
  ],"spacing":0,"bounds":"flush","resolve":{"scale":{"color":"independent"},"legend":{"color":"independent"}}},
  {"width":504,"height":1,"data":{"values":[]},"mark":"point"},
  {"width":412,"height":209,
   "layer":[
    {"data":{"values":[{"k":"R2","v":1.4122},{"k":"R1","v":1.3938},{"k":"S1","v":1.3465},{"k":"S2","v":1.3176}]},"mark":{"type":"rule","strokeWidth":2},"encoding":{"y":{"field":"v","type":"quantitative","title":null,"scale":{"domain":[1.31,1.418],"nice":false,"zero":false},"axis":{"values":[1.31,1.337,1.364,1.391,1.418],"tickCount":10,"format":".4f","grid":false,"title":null,"labelFontSize":12.3}},"color":{"field":"k","type":"nominal","scale":{"domain":["CLOSE","R2","R1","S1","S2"],"range":["#2878bd","#a9cc7e","#eaa0a0","#a696cc","#8ccde8"]},"legend":{"title":null,"orient":"none","legendX":-11,"legendY":254.5,"direction":"horizontal","symbolType":"stroke","symbolSize":841,"symbolStrokeWidth":2,"labelFontSize":5.5,"labelFontWeight":"bold","labelColor":"#555555","labelOffset":4,"columnPadding":48}}}},
    {"data":{"name":"hourly"},"mark":{"type":"line","strokeWidth":2.6},"encoding":{"x":{"field":"i","type":"quantitative","scale":{"domain":[0,124],"nice":false,"zero":false},"axis":{"values":[0,20,40,60,80,100,120],"tickCount":10,"labelExpr":"[['7 Oct','7 Oct','10 Oct','11 Oct','12 Oct','13 Oct','14 Oct'][datum.value/20], ['0:00','20:00','16:00','12:00','8:00','4:00','0:00'][datum.value/20]]","grid":false,"labelFontSize":12.3,"labelPadding":10,"labelLineHeight":15,"title":"Note: Support & Resistance Calculated based on 24 Hr Pivot Points","titleX":5,"titleY":82,"titleAlign":"left","titleAnchor":"start","titleBaseline":"middle","titleFontSize":12.2,"titleFontWeight":"normal","titleColor":"#222222","titleFont":"Liberation Sans"}},"y":{"field":"c","type":"quantitative","title":null},"color":{"datum":"CLOSE","type":"nominal"}}},
    {"data":{"values":[{"k":"R2","v":1.4122},{"k":"R1","v":1.3938},{"k":"S1","v":1.3465},{"k":"S2","v":1.3176}]},"mark":{"type":"text","align":"right","baseline":"middle","dx":-12,"dy":-10,"fontSize":12.5,"font":"Liberation Sans","color":"#333333"},"encoding":{"x":{"datum":124,"type":"quantitative"},"y":{"field":"v","type":"quantitative","title":null},"text":{"field":"v","type":"quantitative","format":".4f"}}}
   ]}
 ],"spacing":0,"bounds":"flush","resolve":{"scale":{"color":"independent"},"legend":{"color":"independent"}}},
{"width":10,"height":300,"data":{"values":[]},"mark":"point"},
{"width":1024,"height":2,"data":{"values":[]},"mark":"point","view":{"fill":"#b5b5b5"}}
]
}
